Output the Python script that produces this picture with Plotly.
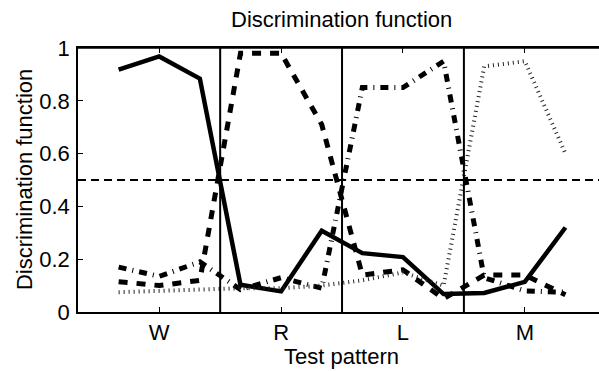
import plotly.graph_objects as go

# ---- data ----
categories = ["W", "R", "L", "M"]
x_pos = [1, 2, 3, 4, 5, 6, 7, 8, 9, 10, 11, 12]
series_W = [0.918, 0.968, 0.884, 0.103, 0.078, 0.308, 0.223, 0.208, 0.068, 0.072, 0.114, 0.320]
series_R = [0.115, 0.100, 0.120, 0.980, 0.980, 0.710, 0.140, 0.160, 0.050, 0.140, 0.140, 0.065]
series_L = [0.170, 0.135, 0.190, 0.085, 0.130, 0.090, 0.850, 0.850, 0.950, 0.130, 0.080, 0.075]
series_M = [0.075, 0.080, 0.085, 0.090, 0.090, 0.100, 0.120, 0.150, 0.100, 0.930, 0.950, 0.600]
threshold = 0.5
tick_vals = [2, 5, 8, 11]
boundaries = [3.5, 6.5, 9.5]

FONT = "Liberation Sans, Arial, Helvetica, sans-serif"
FS = 22

fig = go.Figure()
styles = [
    (series_W, dict(color="black", width=4.5)),
    (series_R, dict(color="black", width=5, dash="9px,9px")),
    (series_L, dict(color="black", width=5, dash="8px,6px,1px,6px")),
    (series_M, dict(color="#222222", width=4, dash="1px,4px")),
]
for ys, ln in styles:
    fig.add_trace(go.Scatter(x=x_pos, y=ys, mode="lines", line=ln,
                             showlegend=False, hoverinfo="skip", cliponaxis=False))

shapes = []
for b in boundaries:
    shapes.append(dict(type="line", xref="x", yref="y", x0=b, x1=b, y0=0, y1=1,
                       line=dict(color="black", width=2)))
shapes.append(dict(type="line", xref="paper", yref="y", x0=0, x1=1, y0=threshold, y1=threshold,
                   line=dict(color="black", width=2, dash="8px,5px")))
# top frame line (axes box, right side cropped as in the reference)
shapes.append(dict(type="line", xref="paper", yref="paper", x0=0, x1=1, y0=1, y1=1,
                   line=dict(color="black", width=1.5)))

fig.update_layout(
    width=599, height=371,
    margin=dict(l=78, r=0, t=48, b=59, autoexpand=False),
    paper_bgcolor="white", plot_bgcolor="white",
    font=dict(family=FONT, size=FS, color="black"),
    shapes=shapes,
    xaxis=dict(range=[0, 12.826], tickvals=tick_vals, ticktext=categories,
               ticks="inside", ticklen=5, tickwidth=1, tickcolor="black",
               showline=True, linecolor="black", linewidth=1.5, mirror="ticks",
               showgrid=False, zeroline=False, ticklabelstandoff=0, automargin=False,
               tickfont=dict(family=FONT, size=FS)),
    yaxis=dict(range=[0, 1], tickvals=[0, 0.2, 0.4, 0.6, 0.8, 1],
               ticktext=["0", "0.2", "0.4", "0.6", "0.8", "1"],
               ticks="inside", ticklen=5, tickwidth=1, tickcolor="black",
               showline=True, linecolor="black", linewidth=1.5,
               showgrid=False, zeroline=False, ticklabelstandoff=2, automargin=False,
               tickfont=dict(family=FONT, size=FS)),
    annotations=[
        dict(text="Discrimination function", xref="paper", yref="paper",
             x=0.5067, y=1.107, xanchor="center", yanchor="middle", showarrow=False,
             font=dict(family=FONT, size=FS)),
        dict(text="Test pattern", xref="paper", yref="paper",
             x=0.5067, y=-0.17, xanchor="center", yanchor="middle", showarrow=False,
             font=dict(family=FONT, size=FS)),
        dict(text="Discrimination function", xref="paper", yref="paper",
             x=-0.1036, y=0.5, xanchor="center", yanchor="middle", textangle=-90,
             showarrow=False, font=dict(family=FONT, size=FS)),
    ],
)

fig.write_html("out.html", config={"displayModeBar": False},
               post_script="document.body.style.margin='0';document.body.style.overflow='hidden';")
